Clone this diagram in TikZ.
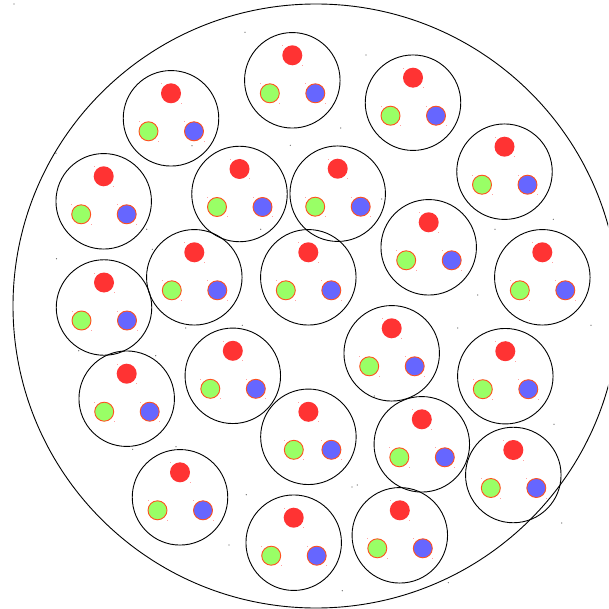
\documentclass[tikz,border=0pt]{standalone}
\definecolor{dotred}{RGB}{255,51,51}
\definecolor{dotgreen}{RGB}{153,255,102}
\definecolor{dotblue}{RGB}{102,102,255}
\definecolor{rim}{RGB}{255,80,30}
\begin{document}
\begin{tikzpicture}[x=1pt,y=-1pt,
  outer/.style={draw=black,line width=0.9pt},
  ring/.style={circle,draw=black,line width=0.9pt,minimum size=95.5pt,inner sep=0pt},
  rdot/.style={circle,fill=dotred,minimum size=20pt,inner sep=0pt},
  gdot/.style={circle,fill=dotgreen,draw=rim,line width=0.9pt,minimum size=19pt,inner sep=0pt},
  bdot/.style={circle,fill=dotblue,draw=rim,line width=0.9pt,minimum size=19pt,inner sep=0pt},
  speck/.style={fill=dotred!45},
  grain/.style={fill=black!65}]
\useasboundingbox (0,0) rectangle (608,609);
\clip (0,0) rectangle (608,609);
\draw[outer] (316,306) ellipse [x radius=303, y radius=302];
\foreach \n/\x/\y/\g in {
  1/292.3/80.3/-22.5, 2/413/102.7/-22.5, 3/171/118.3/-22.5, 4/504.5/171.7/-22.5,
  5/103.7/201.3/-22.5, 6/239.5/194/-22.5, 7/337.7/193.7/-22.5, 8/428.7/247.3/-22.5,
  9/194.3/277.3/-22.5, 10/308.3/277.3/-22.5, 11/542.3/277.3/-22.5, 12/104/307.5/-22.5,
  13/391.7/353.3/-22.5, 14/232.8/375.8/-22.5, 15/505.3/376.2/-22.5, 16/126.7/398.7/-22.5,
  17/308.4/436.8/-14.6, 18/421.8/444.3/-22.5, 19/513.3/475/-22.5, 20/180/497.3/-22.5,
  21/293.7/542.7/-22.5, 22/399.8/535.3/-22.5} {
  \node[ring] (c\n) at (\x,\y) {};
  \node[rdot] (r\n) at (\x,{\y-25}) {};
  \node[gdot] (g\n) at ({\x+\g},{\y+13}) {};
  \node[bdot] (b\n) at ({\x+23},{\y+13}) {};
  \fill[speck] ({\x-10},{\y-35}) rectangle ++(1,1);
  \fill[speck] ({\x+9.5},{\y-15.5}) rectangle ++(1,1);
  \fill[speck] ({\x+\g-10},{\y+3}) rectangle ++(1,1);
  \fill[speck] ({\x+\g+9.5},{\y+22.5}) rectangle ++(1,1);
  \fill[speck] ({\x+23-10},{\y+3}) rectangle ++(1,1);
  \fill[speck] ({\x+23+9.5},{\y+22.5}) rectangle ++(1,1);
}
\foreach \px/\py in {14/4, 56/153.3, 56.5/258.8, 146.7/229.3, 192/145.7, 152.3/249.3,
  245/32.3, 366/55, 340.7/128, 290.3/145.3, 260.7/229.3, 381.7/199,
  553.3/219.3, 495/229.3, 477.7/295, 185.7/328, 132.7/449.3, 176/446.7,
  78.7/350.7, 155.7/355.7, 242.3/325.3, 246.3/494.7, 229/545, 352/487,
  357.3/485, 342.3/590.7, 374.3/396, 457.7/328, 591/325.3, 554/424.3,
  561.7/523, 448.3/582.7} {
  \fill[grain] (\px,\py) circle (0.6);
}
\end{tikzpicture}
\end{document}
